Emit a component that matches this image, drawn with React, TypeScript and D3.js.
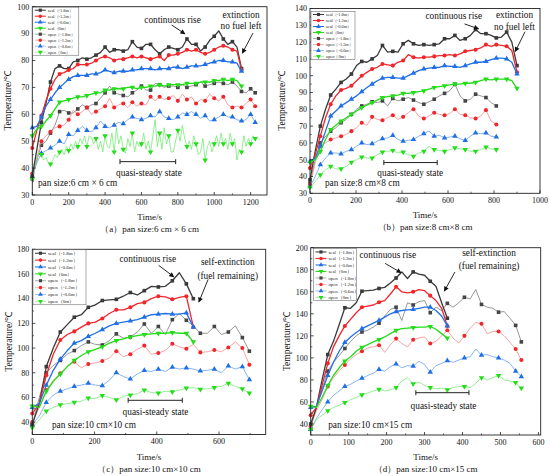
import React, { useEffect, useRef } from "react";
import * as d3 from "d3";

const seriesNames = [
  "seal（-1.8m）",
  "seal（-1.2m）",
  "seal（-0.6m）",
  "seal（0m）",
  "open（-1.8m）",
  "open（-1.2m）",
  "open（-0.6m）",
  "open（0m）",
];

// (a) 6 cm x 6 cm, one reading every 25 s
const aSeal18 = [37, 47, 57, 64, 72, 77, 78, 77, 77, 79.5, 80, 81, 80.5, 81, 82, 83, 85, 83, 84, 84, 83.5, 84, 87, 85, 84.5, 86, 86, 84, 82.5, 84, 85, 84.5, 84, 85, 88, 86, 86, 83.5, 85, 87.5, 89, 91, 88, 86, 87, 85, 77];
const aSeal12 = [47.5, 54, 59.5, 65, 69.5, 73, 75, 75.5, 76.5, 77, 78.5, 78.5, 78.5, 79, 80, 81, 81.5, 81, 80, 80.5, 80.5, 81, 81.5, 81, 81.5, 81, 80.5, 81, 81.5, 80, 82, 82, 82.5, 83, 84, 83.5, 84, 83, 82.5, 83, 84, 85, 85.5, 85, 84, 83.5, 76.5];
const aSeal06 = [55, 55.5, 59, 63, 65.5, 68, 70, 71.5, 73, 74, 74.5, 74.5, 74.5, 75, 75, 75.5, 76.5, 76, 75.5, 76, 76, 76, 76.5, 76.5, 77, 77, 77, 76.5, 77, 77, 77, 77.5, 77.5, 77, 77.5, 78, 78, 78, 78.5, 79, 79.5, 80, 80, 79.5, 79.5, 79, 76];
const aSeal0 = [52, 54.5, 55.5, 57.5, 59.5, 62, 64.5, 65, 65.5, 66, 66.5, 66.5, 67, 67.5, 68, 68, 69, 69, 69.5, 69.5, 69.5, 70, 70, 69.5, 70, 70, 70.5, 70.5, 71, 70.5, 71, 71, 71, 71, 71.5, 71.5, 71.5, 72, 72, 72, 72.5, 72.5, 73, 72.5, 73, 72.5, 70.5];
const aOpen18 = [36, 43, 48.5, 50, 53, 56, 61, 61.5, 60.5, 60.5, 62, 63.5, 62.5, 63.5, 64, 66, 68, 70.5, 68, 67.5, 67, 66.5, 68, 69, 70.5, 69, 69, 71.5, 71, 70, 70.5, 70.5, 70, 71, 70, 70.5, 71, 72, 70.5, 71, 71.5, 72, 71.5, 71, 72, 70.5, 68.5, 68, 69.5, 68];
const aOpen12 = [38, 44, 50, 52, 53.5, 55, 55.5, 56, 58, 61.5, 60, 61, 62.5, 60, 61, 62, 63, 66, 62.5, 63.5, 64, 62.5, 64.5, 63, 64, 63.5, 66.5, 65, 66.5, 65.5, 66, 67, 65, 67.5, 65.5, 66.5, 64, 65.5, 65, 67.5, 66, 65, 66.5, 63.5, 62.5, 63, 62.5, 64, 65.5, 63];
const aOpen06 = [37, 42, 45.5, 46.5, 47.5, 48.5, 50, 49, 52.5, 52, 54, 55.5, 54, 53.5, 55, 57.5, 55.5, 55, 56, 57, 56.5, 58, 59, 58.5, 58, 58.5, 59.5, 59, 61, 59, 58.5, 58, 59, 60.5, 60, 61, 60, 58.5, 59.5, 57.5, 58, 59, 60, 59, 59, 58, 57.5, 58, 60, 57];
// open 0m is noisy, read every 12.5 s
const aOpen0 = [36, 40, 43, 46, 45, 43, 44, 42, 41.5, 43, 45, 44, 46, 47, 45, 48, 46.5, 49, 47, 50, 48, 51, 49, 52, 48, 52, 51.5, 49, 51, 47, 50, 46, 52, 48, 47.5, 53, 46, 55, 49, 52, 47, 45.5, 51, 48, 53, 46, 50, 48, 49, 53, 47, 50, 46, 52, 58, 48, 53, 47, 55, 49, 52, 46, 46, 50, 54, 50, 56, 51, 48, 50, 47, 52, 49, 45, 46, 51, 43, 48, 50, 46, 49, 52, 48, 53, 49, 51, 47, 53, 49, 51, 43, 47, 46, 52, 48, 51, 49, 52, 51];
const aXTicks = [0, 200, 400, 600, 800, 1000, 1200];
const aYTicks = [30, 40, 50, 60, 70, 80, 90, 100];

// (b) 8 cm x 8 cm, one reading every 22.5 s
const bSeal18 = [38, 55, 70, 80, 88.5, 92, 96, 98, 101, 106, 108.5, 108, 110, 112, 118, 114, 114.5, 114, 119, 121, 119, 118, 118.5, 118, 118.5, 119, 122, 122, 124, 121, 122, 124, 127.5, 125, 125, 124, 122.5, 123, 126, 120, 106];
const bSeal12 = [45, 53, 64, 75, 83, 88, 91.5, 92.5, 94, 97, 100, 102, 104, 105, 107, 106.5, 106, 108, 109, 112.5, 111, 110.5, 111, 111, 111.5, 112, 112, 112.5, 112, 113, 114.5, 115, 115.5, 116.5, 118.5, 117.5, 118.5, 118, 117.5, 115, 102];
const bSeal06 = [49, 51, 58, 67, 76, 79, 82, 84, 86, 88, 90.5, 93, 95, 97, 98.5, 99, 99, 98.5, 98.5, 100, 101.5, 103, 104, 104.5, 105, 105, 106, 105.5, 105.5, 105, 106, 107, 108, 108, 108.5, 109.5, 110.5, 110.5, 110, 108, 101];
const bSeal0 = [48.5, 50, 55, 62, 68, 70.5, 73, 75, 77, 79, 81, 82.5, 84, 85.5, 87, 87.5, 88, 88.5, 89.5, 89.5, 90, 90.5, 91, 92, 93, 93.5, 94, 94.5, 95, 95, 95.5, 95.5, 96, 97, 98, 97.5, 98, 98, 98, 97, 92.5];
const bOpen18 = [36, 50, 60, 64, 67, 69, 72, 74, 77, 80, 82, 83, 84.5, 84, 85, 82, 86.5, 85, 86, 87, 85.5, 84, 83, 84.5, 86, 88, 89.5, 91, 95, 88, 85, 86, 89, 88, 87, 84, 82];
const bOpen12 = [35, 48, 58, 60, 62, 63, 64, 65, 67, 69, 72, 70.5, 75.5, 74, 73.5, 75, 76.5, 74, 75.5, 78, 80, 76, 74.5, 76, 78, 77, 76.5, 77.5, 80, 77, 76.5, 75, 74.5, 76, 79.5, 73, 71];
const bOpen06 = [34, 40, 47, 51, 54, 54, 53.5, 55, 56, 58, 60, 59, 59.5, 61, 62.5, 63, 64.5, 62, 61, 61.5, 62, 64, 65.5, 67, 64, 64.5, 63, 63.5, 64, 62.5, 61.5, 64, 66, 65.5, 66, 64, 63.5];
const bOpen0 = [33.5, 37, 41, 44, 46, 44.5, 44.5, 46, 48.5, 50, 51.5, 51, 51, 53, 54.5, 55, 55.5, 54, 54.5, 53, 52, 54, 55, 58, 56, 55.5, 55, 56, 57, 56.5, 56, 55, 55, 56, 57.5, 56.5, 56];
const bXTicks = [0, 200, 400, 600, 800, 1000];
const bYTicks = [30, 40, 50, 60, 70, 80, 90, 100, 110, 120, 130, 140];

// (c) 10 cm x 10 cm, one reading every 22.5 s
const cSeal18 = [38, 55, 85, 100, 113, 119, 125, 127, 133, 135, 138.5, 139, 139.5, 142, 145, 143, 146.5, 150, 149.5, 150, 154.5, 161, 152, 140];
const cSeal12 = [47, 55, 78, 95, 106.5, 111, 113.5, 117, 120, 121, 124, 128, 131, 131, 133, 136, 137, 140, 142, 141.5, 139.5, 141, 142, 117];
const cSeal06 = [52, 55, 70, 82, 91, 98, 104, 106, 109.5, 112, 115, 118, 120, 121, 122, 123, 125, 127, 127.5, 128, 127.5, 127.5, 128.5, 117];
const cSeal0 = [53, 52, 65, 73, 79, 85, 90, 94, 97, 99, 101, 104, 106, 107.5, 109, 110, 111, 111.5, 112, 112, 112.5, 112, 112, 105];
const cOpen18 = [38, 60, 80, 86, 90, 95, 98, 102, 105, 103, 102.5, 106, 111.5, 108, 109, 113, 119.5, 112, 117.5, 111, 123, 128, 122.5, 118, 112, 112, 117.5, 111, 113, 118, 108.5, 97.5];
const cOpen12 = [40, 52, 66, 74, 79.5, 85, 89, 84, 87, 88, 89.5, 92, 97.5, 93, 95, 99, 102, 95, 96, 98, 103.5, 101, 99.5, 103, 96.5, 97, 98.5, 97, 100.5, 105, 100, 86.5];
const cOpen06 = [38, 45, 56, 62, 65, 67, 69, 70, 71.5, 70, 69.5, 74, 80, 77, 75, 79, 82, 81, 83, 81, 84.5, 83, 84, 83, 81.5, 82, 83, 80, 85.5, 83, 85, 74.5];
const cOpen0 = [35.5, 42, 49, 52, 54, 55, 56, 57, 59.5, 59, 61.5, 60, 58, 61, 62, 63, 66, 64, 63.5, 65, 64.5, 66, 67.5, 68, 66.5, 67, 68, 69, 71.5, 69, 67, 63.5];
const cXTicks = [0, 200, 400, 600];
const cYTicks = [40, 60, 80, 100, 120, 140, 160, 180];

// (d) 10 cm x 15 cm, one reading every 15 s
const dSeal18 = [40, 55, 80, 103, 115, 130, 145.5, 145, 150, 160.5, 161, 161.5, 163, 164, 168, 172.5, 178, 172, 178, 176, 175, 169.5, 165, 150, 136];
const dSeal12 = [48, 55, 75, 95, 110, 120, 129, 135, 141, 146, 147, 148, 150.5, 152, 158, 164.5, 160, 159, 160, 162, 161, 156.5, 152, 145, 129];
const dSeal06 = [55, 56, 70, 84, 96, 106, 114, 119, 123, 126.5, 129, 131.5, 134, 137, 140, 142, 143, 143.5, 144, 145, 146, 146, 143, 138, 129];
const dSeal0 = [56, 55, 64, 75, 84, 91, 97, 101, 106, 109.5, 112, 114.5, 116.5, 119, 122, 125, 126.5, 127, 127.5, 128, 128, 128.5, 126, 122, 118];
const dOpen18 = [37, 55, 72, 88, 96, 102, 108.5, 115, 120, 123.5, 125, 128, 131.5, 138, 144, 146, 134, 150, 148, 151, 152, 141, 146, 143, 149.5, 146, 150, 155, 153.5, 162, 148.5, 146, 145, 141.5, 142, 136, 129.5, 114.5];
const dOpen12 = [38, 52, 62, 74, 82, 88, 93.5, 99, 103, 106, 109, 110, 111.5, 105, 112, 117.5, 113, 110, 116.5, 118, 119, 113, 115, 120, 125, 118, 113.5, 120, 127, 132, 131, 122, 124, 124, 120, 114, 108, 98];
const dOpen06 = [35, 45, 53, 60, 66, 70, 74, 76, 79, 81.5, 84, 86, 89.5, 88, 92, 94.5, 91, 93, 92.5, 97, 94, 87, 93, 95, 97.5, 96, 98, 100, 101, 108, 102.5, 103, 101, 100, 98, 95, 88, 83];
const dOpen0 = [35, 44, 48, 52, 55, 57, 59.5, 62, 64, 66.5, 68, 70, 71.5, 70, 71, 73, 79, 82, 76.5, 78, 75, 73, 72, 72.5, 71, 73, 74, 74, 73, 77, 82, 80, 82, 84, 80, 79, 77.5, 72.5];
const dXTicks = [0, 100, 200, 300, 400, 500, 600];
const dYTicks = [40, 60, 80, 100, 120, 140, 160, 180, 200];

const styles = [
  { line: "#3a3a3a", mark: "#3a3a3a", width: 1.3, shape: "square" },
  { line: "#f0262b", mark: "#f0262b", width: 1.3, shape: "circle" },
  { line: "#1f6fe5", mark: "#1f6fe5", width: 1.3, shape: "up" },
  { line: "#22dd18", mark: "#22dd18", width: 1.3, shape: "down" },
  { line: "#6a6a6a", mark: "#454545", width: 0.7, shape: "square" },
  { line: "#f57d7d", mark: "#f0262b", width: 0.7, shape: "circle" },
  { line: "#5592ec", mark: "#1f6fe5", width: 0.7, shape: "up" },
  { line: "#66e866", mark: "#22dd18", width: 0.7, shape: "down" },
];

const panels = [
  {
    frame: { left: 32.3, top: 6.7, right: 267, bottom: 195 },
    xDomain: [0, 1290], yDomain: [30, 100],
    xTicks: aXTicks, xMinor: 100, yTicks: aYTicks, yMinor: 5,
    series: [
      { values: aSeal18, dt: 25, every: 2 },
      { values: aSeal12, dt: 25, every: 2 },
      { values: aSeal06, dt: 25, every: 2 },
      { values: aSeal0, dt: 25, every: 2 },
      { values: aOpen18, dt: 25, every: 2 },
      { values: aOpen12, dt: 25, every: 2 },
      { values: aOpen06, dt: 25, every: 2 },
      { values: aOpen0, dt: 12.5, every: 4 },
    ],
    legend: { x: 32.8, y: 7.2, w: 46, h: 48 },
    caption: "（a）pan size:6 cm × 6 cm",
    pan: { text: "pan size:6 cm × 6 cm", t: 31, v: 34.6 },
    rise: { t: 771, v: 95, from: [766, 93.2], to: [839, 89.9] },
    end: { lines: ["extinction", "no fuel left"], t: 1147, v: [96.9, 92.8], from: [1213, 90.2], to: [1154, 82.7] },
    steady: { from: 482, to: 788, v: 42.4, textT: 641, textV: 38.2 },
    yLabelOffset: 25,
  },
  {
    frame: { left: 310, top: 8.5, right: 540, bottom: 193.3 },
    xDomain: [0, 1000], yDomain: [30, 140],
    xTicks: bXTicks, xMinor: 100, yTicks: bYTicks, yMinor: 5,
    series: [
      { values: bSeal18, dt: 22.5, every: 2 },
      { values: bSeal12, dt: 22.5, every: 2 },
      { values: bSeal06, dt: 22.5, every: 2 },
      { values: bSeal0, dt: 22.5, every: 2 },
      { values: bOpen18, dt: 22.5, every: 2 },
      { values: bOpen12, dt: 22.5, every: 2 },
      { values: bOpen06, dt: 22.5, every: 2 },
      { values: bOpen0, dt: 22.5, every: 2 },
    ],
    legend: { x: 311, y: 11.5, w: 44, h: 48 },
    caption: "（b）pan size:8 cm×8 cm",
    pan: { text: "pan size:8 cm×8 cm", t: 65, v: 36.1 },
    rise: { t: 625, v: 135.5, from: [672, 130.8], to: [733, 127.9] },
    end: { lines: ["extinction", "no fuel left"], t: 889, v: [136.1, 129.1], from: [935, 126.2], to: [892, 114.3] },
    steady: { from: 321, to: 553, v: 48.3, textT: 436, textV: 42.1 },
    yLabelOffset: 28,
  },
  {
    frame: { left: 32.3, top: 249.3, right: 265.7, bottom: 434.5 },
    xDomain: [0, 750], yDomain: [30, 180],
    xTicks: cXTicks, xMinor: 100, yTicks: cYTicks, yMinor: 10,
    series: [
      { values: cSeal18, dt: 22.5, every: 2 },
      { values: cSeal12, dt: 22.5, every: 2 },
      { values: cSeal06, dt: 22.5, every: 2 },
      { values: cSeal0, dt: 22.5, every: 2 },
      { values: cOpen18, dt: 22.5, every: 2 },
      { values: cOpen12, dt: 22.5, every: 2 },
      { values: cOpen06, dt: 22.5, every: 2 },
      { values: cOpen0, dt: 22.5, every: 2 },
    ],
    legend: { x: 33, y: 249.8, w: 53, h: 55 },
    caption: "（c）pan size:10 cm×10 cm",
    pan: { text: "pan size:10 cm×10 cm", t: 63, v: 37.7 },
    rise: { t: 371, v: 172.4, from: [406, 167], to: [455, 157.7] },
    end: { lines: ["self-extinction", "(fuel remaining)"], t: 628, v: [169.7, 158.9], from: [565, 155.6], to: [535, 137.2] },
    steady: { from: 308, to: 482, v: 57.7, textT: 396, textV: 48.3 },
    yLabelOffset: 24,
  },
  {
    frame: { left: 310.7, top: 247.7, right: 540.7, bottom: 435 },
    xDomain: [0, 606], yDomain: [30, 200],
    xTicks: dXTicks, xMinor: 50, yTicks: dYTicks, yMinor: 10,
    series: [
      { values: dSeal18, dt: 15, every: 3 },
      { values: dSeal12, dt: 15, every: 3 },
      { values: dSeal06, dt: 15, every: 3 },
      { values: dSeal0, dt: 15, every: 3 },
      { values: dOpen18, dt: 15, every: 3 },
      { values: dOpen12, dt: 15, every: 3 },
      { values: dOpen06, dt: 15, every: 3 },
      { values: dOpen0, dt: 15, every: 3 },
    ],
    legend: { x: 313.5, y: 248.7, w: 43, h: 52 },
    caption: "（d）pan size:10 cm×15 cm",
    pan: { text: "pan size:10 cm×15 cm", t: 46, v: 39.7 },
    rise: { t: 203, v: 193.4, from: [196, 185.8], to: [238, 177.3] },
    end: { lines: ["self-extinction", "(fuel remaining)"], t: 470, v: [195.5, 184], from: [380, 177.9], to: [352, 160.6] },
    steady: { from: 277, to: 417, v: 68.4, textT: 350, textV: 57 },
    yLabelOffset: 24,
  },
];

const FONT = "Liberation Serif";

const symbolFor = (shape: string, size: number) => {
  if (shape === "square") return d3.symbol().type(d3.symbolSquare).size(size)();
  if (shape === "circle") return d3.symbol().type(d3.symbolCircle).size(size)();
  return d3.symbol().type(d3.symbolTriangle).size(size)();
};

const drawPanel = (svg: any, p: any) => {
  const { frame } = p;
  const x = d3.scaleLinear().domain(p.xDomain).range([frame.left, frame.right]);
  const y = d3.scaleLinear().domain(p.yDomain).range([frame.bottom, frame.top]);
  const g = svg.append("g");

  // series: open first, seal on top
  const order = [4, 5, 6, 7, 0, 1, 2, 3];
  order.forEach((i) => {
    const s = p.series[i];
    const st = styles[i];
    const pts = s.values.map((v: number, k: number) => [k * s.dt, v]);
    const line = d3
      .line()
      .x((d: any) => x(d[0]))
      .y((d: any) => y(d[1]));
    g.append("path")
      .attr("d", line(pts))
      .attr("fill", "none")
      .attr("stroke", st.line)
      .attr("stroke-width", st.width)
      .attr("stroke-linejoin", "round");
    const marks = pts.filter((_: any, k: number) => k % s.every === 0 || k === pts.length - 1);
    g.append("g")
      .selectAll("path")
      .data(marks)
      .join("path")
      .attr("d", symbolFor(st.shape, 13))
      .attr("fill", st.mark)
      .attr(
        "transform",
        (d: any) => `translate(${x(d[0])},${y(d[1])})${st.shape === "down" ? " rotate(180)" : ""}`,
      );
  });

  // frame
  g.append("rect")
    .attr("x", frame.left)
    .attr("y", frame.top)
    .attr("width", frame.right - frame.left)
    .attr("height", frame.bottom - frame.top)
    .attr("fill", "none")
    .attr("stroke", "#222")
    .attr("stroke-width", 0.9);

  // ticks (inward)
  const xMinor = d3.range(p.xDomain[0], p.xDomain[1] + 0.001, p.xMinor).filter((v: number) => !p.xTicks.includes(v));
  const yMinor = d3.range(p.yDomain[0], p.yDomain[1] + 0.001, p.yMinor).filter((v: number) => !p.yTicks.includes(v));
  g.append("g")
    .selectAll("line")
    .data(p.xTicks)
    .join("line")
    .attr("x1", (d: number) => x(d))
    .attr("x2", (d: number) => x(d))
    .attr("y1", frame.bottom)
    .attr("y2", frame.bottom - 3)
    .attr("stroke", "#222")
    .attr("stroke-width", 0.8);
  g.append("g")
    .selectAll("line")
    .data(xMinor)
    .join("line")
    .attr("x1", (d: number) => x(d))
    .attr("x2", (d: number) => x(d))
    .attr("y1", frame.bottom)
    .attr("y2", frame.bottom - 1.6)
    .attr("stroke", "#222")
    .attr("stroke-width", 0.7);
  g.append("g")
    .selectAll("line")
    .data(p.yTicks)
    .join("line")
    .attr("x1", frame.left)
    .attr("x2", frame.left + 3)
    .attr("y1", (d: number) => y(d))
    .attr("y2", (d: number) => y(d))
    .attr("stroke", "#222")
    .attr("stroke-width", 0.8);
  g.append("g")
    .selectAll("line")
    .data(yMinor)
    .join("line")
    .attr("x1", frame.left)
    .attr("x2", frame.left + 1.6)
    .attr("y1", (d: number) => y(d))
    .attr("y2", (d: number) => y(d))
    .attr("stroke", "#222")
    .attr("stroke-width", 0.7);

  const text = g.append("g").style("font-family", FONT).attr("fill", "#111");
  text.append("g")
    .selectAll("text")
    .data(p.xTicks)
    .join("text")
    .attr("x", (d: number) => x(d))
    .attr("y", frame.bottom + 9.5)
    .attr("text-anchor", "middle")
    .attr("font-size", 8)
    .text((d: number) => d);
  text.append("g")
    .selectAll("text")
    .data(p.yTicks)
    .join("text")
    .attr("x", frame.left - 3)
    .attr("y", (d: number) => y(d))
    .attr("dy", "0.35em")
    .attr("text-anchor", "end")
    .attr("font-size", 8)
    .text((d: number) => d);

  const cx = (frame.left + frame.right) / 2;
  text.append("text")
    .attr("x", cx)
    .attr("y", frame.bottom + 25)
    .attr("text-anchor", "middle")
    .attr("font-size", 9)
    .text("Time/s");
  text.append("text")
    .attr("x", cx)
    .attr("y", frame.bottom + 37)
    .attr("text-anchor", "middle")
    .attr("font-size", 9)
    .text(p.caption);
  const cy = (frame.top + frame.bottom) / 2;
  text.append("text")
    .attr("transform", `translate(${frame.left - p.yLabelOffset},${cy}) rotate(-90)`)
    .attr("text-anchor", "middle")
    .attr("dy", "0.35em")
    .attr("font-size", 9.5)
    .text("Temperature/℃");

  // annotations
  text.append("text")
    .attr("x", x(p.pan.t))
    .attr("y", y(p.pan.v))
    .attr("dy", "0.35em")
    .attr("font-size", 9.3)
    .text(p.pan.text);
  text.append("text")
    .attr("x", x(p.rise.t))
    .attr("y", y(p.rise.v))
    .attr("dy", "0.35em")
    .attr("text-anchor", "middle")
    .attr("font-size", 9.3)
    .text("continuous rise");
  p.end.lines.forEach((l: string, k: number) => {
    text.append("text")
      .attr("x", x(p.end.t))
      .attr("y", y(p.end.v[k]))
      .attr("dy", "0.35em")
      .attr("text-anchor", "middle")
      .attr("font-size", 9.3)
      .text(l);
  });
  [p.rise, p.end].forEach((a: any) => {
    g.append("line")
      .attr("x1", x(a.from[0]))
      .attr("y1", y(a.from[1]))
      .attr("x2", x(a.to[0]))
      .attr("y2", y(a.to[1]))
      .attr("stroke", "#111")
      .attr("stroke-width", 0.9)
      .attr("marker-end", "url(#arrowhead)");
  });
  const sy = y(p.steady.v);
  g.append("path")
    .attr(
      "d",
      `M${x(p.steady.from)},${sy}H${x(p.steady.to)}M${x(p.steady.from)},${sy - 2.5}V${sy + 2.5}M${x(p.steady.to)},${sy - 2.5}V${sy + 2.5}`,
    )
    .attr("stroke", "#222")
    .attr("stroke-width", 1)
    .attr("fill", "none");
  text.append("text")
    .attr("x", x(p.steady.textT))
    .attr("y", y(p.steady.textV))
    .attr("dy", "0.35em")
    .attr("text-anchor", "middle")
    .attr("font-size", 9.3)
    .text("quasi-steady state");

  // legend
  const L = p.legend;
  const lg = g.append("g");
  lg.append("rect")
    .attr("x", L.x)
    .attr("y", L.y)
    .attr("width", L.w)
    .attr("height", L.h)
    .attr("fill", "white")
    .attr("stroke", "#555")
    .attr("stroke-width", 0.5);
  const rowH = L.h / 8;
  seriesNames.forEach((name, i) => {
    const st = styles[i];
    const ry = L.y + rowH * (i + 0.5);
    lg.append("line")
      .attr("x1", L.x + 2)
      .attr("x2", L.x + 13)
      .attr("y1", ry)
      .attr("y2", ry)
      .attr("stroke", st.line)
      .attr("stroke-width", st.width * 0.8);
    lg.append("path")
      .attr("d", symbolFor(st.shape, 10))
      .attr("fill", st.mark)
      .attr("transform", `translate(${L.x + 7.5},${ry})${st.shape === "down" ? " rotate(180)" : ""}`);
    lg.append("text")
      .attr("x", L.x + 15)
      .attr("y", ry)
      .attr("dy", "0.35em")
      .style("font-family", FONT)
      .attr("font-size", L.h / 11)
      .attr("fill", "#222")
      .text(name);
  });
};

export default function App() {
  const ref = useRef<SVGSVGElement>(null);

  useEffect(() => {
    const svg = d3.select(ref.current);
    svg.selectAll("*").remove();
    svg.append("rect").attr("width", 550).attr("height", 476).attr("fill", "white");
    svg.append("defs")
      .append("marker")
      .attr("id", "arrowhead")
      .attr("viewBox", "0 0 10 10")
      .attr("refX", 9)
      .attr("refY", 5)
      .attr("markerWidth", 6)
      .attr("markerHeight", 5)
      .attr("markerUnits", "userSpaceOnUse")
      .attr("orient", "auto")
      .append("path")
      .attr("d", "M0,0L10,5L0,10z")
      .attr("fill", "#111");
    panels.forEach((p) => drawPanel(svg, p));
  }, []);

  return (
    <svg
      ref={ref}
      width={550}
      height={476}
      style={{ position: "absolute", left: 0, top: 0, display: "block" }}
    />
  );
}
